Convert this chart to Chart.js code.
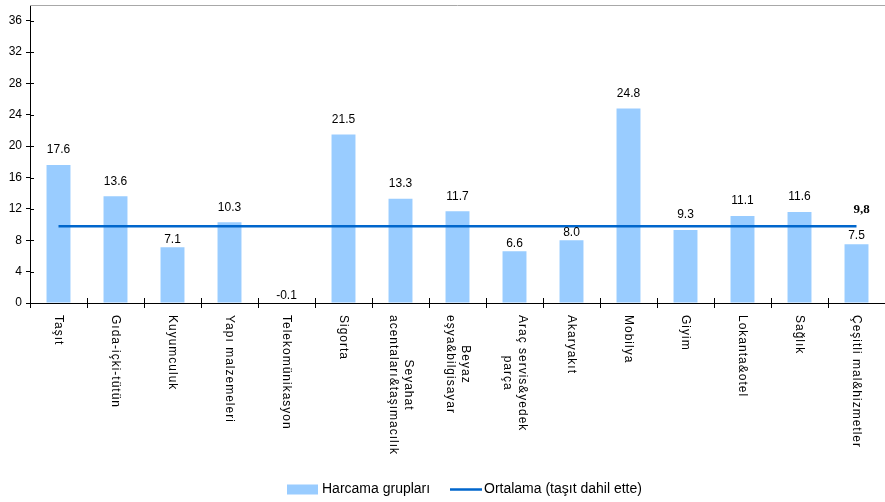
<!DOCTYPE html>
<html><head><meta charset="utf-8">
<script src="https://cdn.jsdelivr.net/npm/chart.js@4/dist/chart.umd.min.js"></script>
<style>html,body{margin:0;padding:0;background:#fff}#w{width:885px;height:502px}</style>
</head><body><div id="w"><canvas id="c"></canvas></div>
<script>
const categories = [
  ["Taşıt"], ["Gıda-içki-tütün"], ["Kuyumculuk"], ["Yapı malzemeleri"], ["Telekomünikasyon"],
  ["Sigorta"], ["Seyahat","acentaları&taşımacılık"], ["Beyaz","eşya&bilgisayar"],
  ["Araç servis&yedek","parça"], ["Akaryakıt"], ["Mobilya"], ["Giyim"], ["Lokanta&otel"],
  ["Sağlık"], ["Çeşitli mal&hizmetler"]
];
const barValues = [17.6, 13.6, 7.1, 10.3, -0.1, 21.5, 13.3, 11.7, 6.6, 8.0, 24.8, 9.3, 11.1, 11.6, 7.5];
const avgValues = [9.8, 9.8, 9.8, 9.8, 9.8, 9.8, 9.8, 9.8, 9.8, 9.8, 9.8, 9.8, 9.8, 9.8, 9.8];
const avgLabel = "9,8";
const yTicks = [0, 4, 8, 12, 16, 20, 24, 28, 32, 36];
const barName = "Harcama grupları";
const lineName = "Ortalama (taşıt dahil ette)";

const BAR_COLOR = "#99CCFF";
const LINE_COLOR = "#0066CC";
const FONT = "'Liberation Sans', Arial, sans-serif";

const custom = {
  id: 'custom',
  afterDraw(chart) {
    const ctx = chart.ctx;
    const a = chart.chartArea;
    const xs = chart.scales.x, ys = chart.scales.y;
    ctx.save();
    // top border
    ctx.strokeStyle = '#A8A8A8'; ctx.lineWidth = 1;
    ctx.beginPath(); ctx.moveTo(a.left, a.top + 0.5); ctx.lineTo(a.right, a.top + 0.5); ctx.stroke();
    // inner tick marks
    ctx.strokeStyle = '#000'; ctx.lineWidth = 1;
    ctx.beginPath();
    yTicks.forEach(v => { const y = Math.round(ys.getPixelForValue(v)) + 0.5; ctx.moveTo(a.left, y); ctx.lineTo(a.left + 4, y); });
    for (let i = 1; i < categories.length; i++) {
      const x = Math.round((xs.getPixelForValue(i - 1) + xs.getPixelForValue(i)) / 2) + 0.5;
      ctx.moveTo(x, a.bottom); ctx.lineTo(x, a.bottom - 5);
    }
    ctx.stroke();
    // bar value labels
    const meta = chart.getDatasetMeta(0);
    const lm = chart.getDatasetMeta(1);
    ctx.fillStyle = '#000'; ctx.font = '12px ' + FONT; ctx.textAlign = 'center'; ctx.textBaseline = 'middle';
    meta.data.forEach((el, i) => {
      const top = Math.min(el.y, el.base);
      const lineY = lm.data[i].y;
      let off = 15;
      if (barValues[i] < 0) off = 8;
      else if (top - 15 > lineY - 10) off = 8;
      ctx.fillText(barValues[i].toFixed(1), el.x, top - off);
    });
    // average label
    const last = lm.data[lm.data.length - 1];
    ctx.font = 'bold 13px "Liberation Serif", "Times New Roman", serif';
    ctx.fillText(avgLabel, last.x + 5, last.y - 17);
    // x labels rotated
    ctx.font = '12px ' + FONT;
    ctx.letterSpacing = '1px';
    ctx.textAlign = 'left';
    const lh = 15;
    categories.forEach((lines, i) => {
      const x = xs.getPixelForValue(i);
      const widths = lines.map(l => ctx.measureText(l).width);
      const maxW = Math.max(...widths);
      ctx.save();
      ctx.translate(x, a.bottom + 12);
      ctx.rotate(Math.PI / 2);
      lines.forEach((l, j) => {
        const yy = (j - (lines.length - 1) / 2) * lh;
        ctx.fillText(l, (maxW - widths[j]) / 2, yy);
      });
      ctx.restore();
    });
    ctx.letterSpacing = '0px';
    // legend
    const ly = 489.5;
    ctx.fillStyle = BAR_COLOR;
    ctx.fillRect(287, ly - 5, 31, 10);
    ctx.fillStyle = '#000'; ctx.font = '14px ' + FONT; ctx.textBaseline = 'middle';
    ctx.fillText(barName, 322, ly);
    ctx.strokeStyle = LINE_COLOR; ctx.lineWidth = 2.5;
    ctx.beginPath(); ctx.moveTo(450, ly); ctx.lineTo(482, ly); ctx.stroke();
    ctx.fillText(lineName, 484, ly);
    ctx.restore();
  }
};

new Chart(document.getElementById('c'), {
  data: {
    labels: categories.map(c => c.join(' ')),
    datasets: [
      { type: 'bar', label: barName, data: barValues, backgroundColor: BAR_COLOR,
        barPercentage: 0.42, categoryPercentage: 1, order: 2 },
      { type: 'line', label: lineName, data: avgValues, borderColor: LINE_COLOR, borderWidth: 2.5,
        pointRadius: 0, fill: false, order: 1 }
    ]
  },
  options: {
    responsive: true, maintainAspectRatio: false, animation: false,
    layout: { padding: { top: 5, left: 0, right: 0, bottom: 0 } },
    plugins: { legend: { display: false }, tooltip: { enabled: false } },
    scales: {
      x: {
        grid: { display: true, drawOnChartArea: false, offset: true, tickLength: 5, color: '#000' },
        border: { color: '#000', width: 1 },
        ticks: { display: false },
        afterFit(s) { s.height = 199; s.paddingLeft = 0; s.paddingRight = 0; }
      },
      y: {
        min: 0, max: 38,
        afterBuildTicks(s) { s.ticks = yTicks.map(v => ({ value: v })); },
        grid: { display: true, drawOnChartArea: false, tickLength: 4, color: '#000' },
        border: { color: '#000', width: 1 },
        ticks: { color: '#000', font: { size: 12, family: FONT }, padding: 4 },
        afterFit(s) { s.width = 30; s.paddingTop = 0; s.paddingBottom = 0; }
      }
    }
  },
  plugins: [custom]
});
</script></body></html>
